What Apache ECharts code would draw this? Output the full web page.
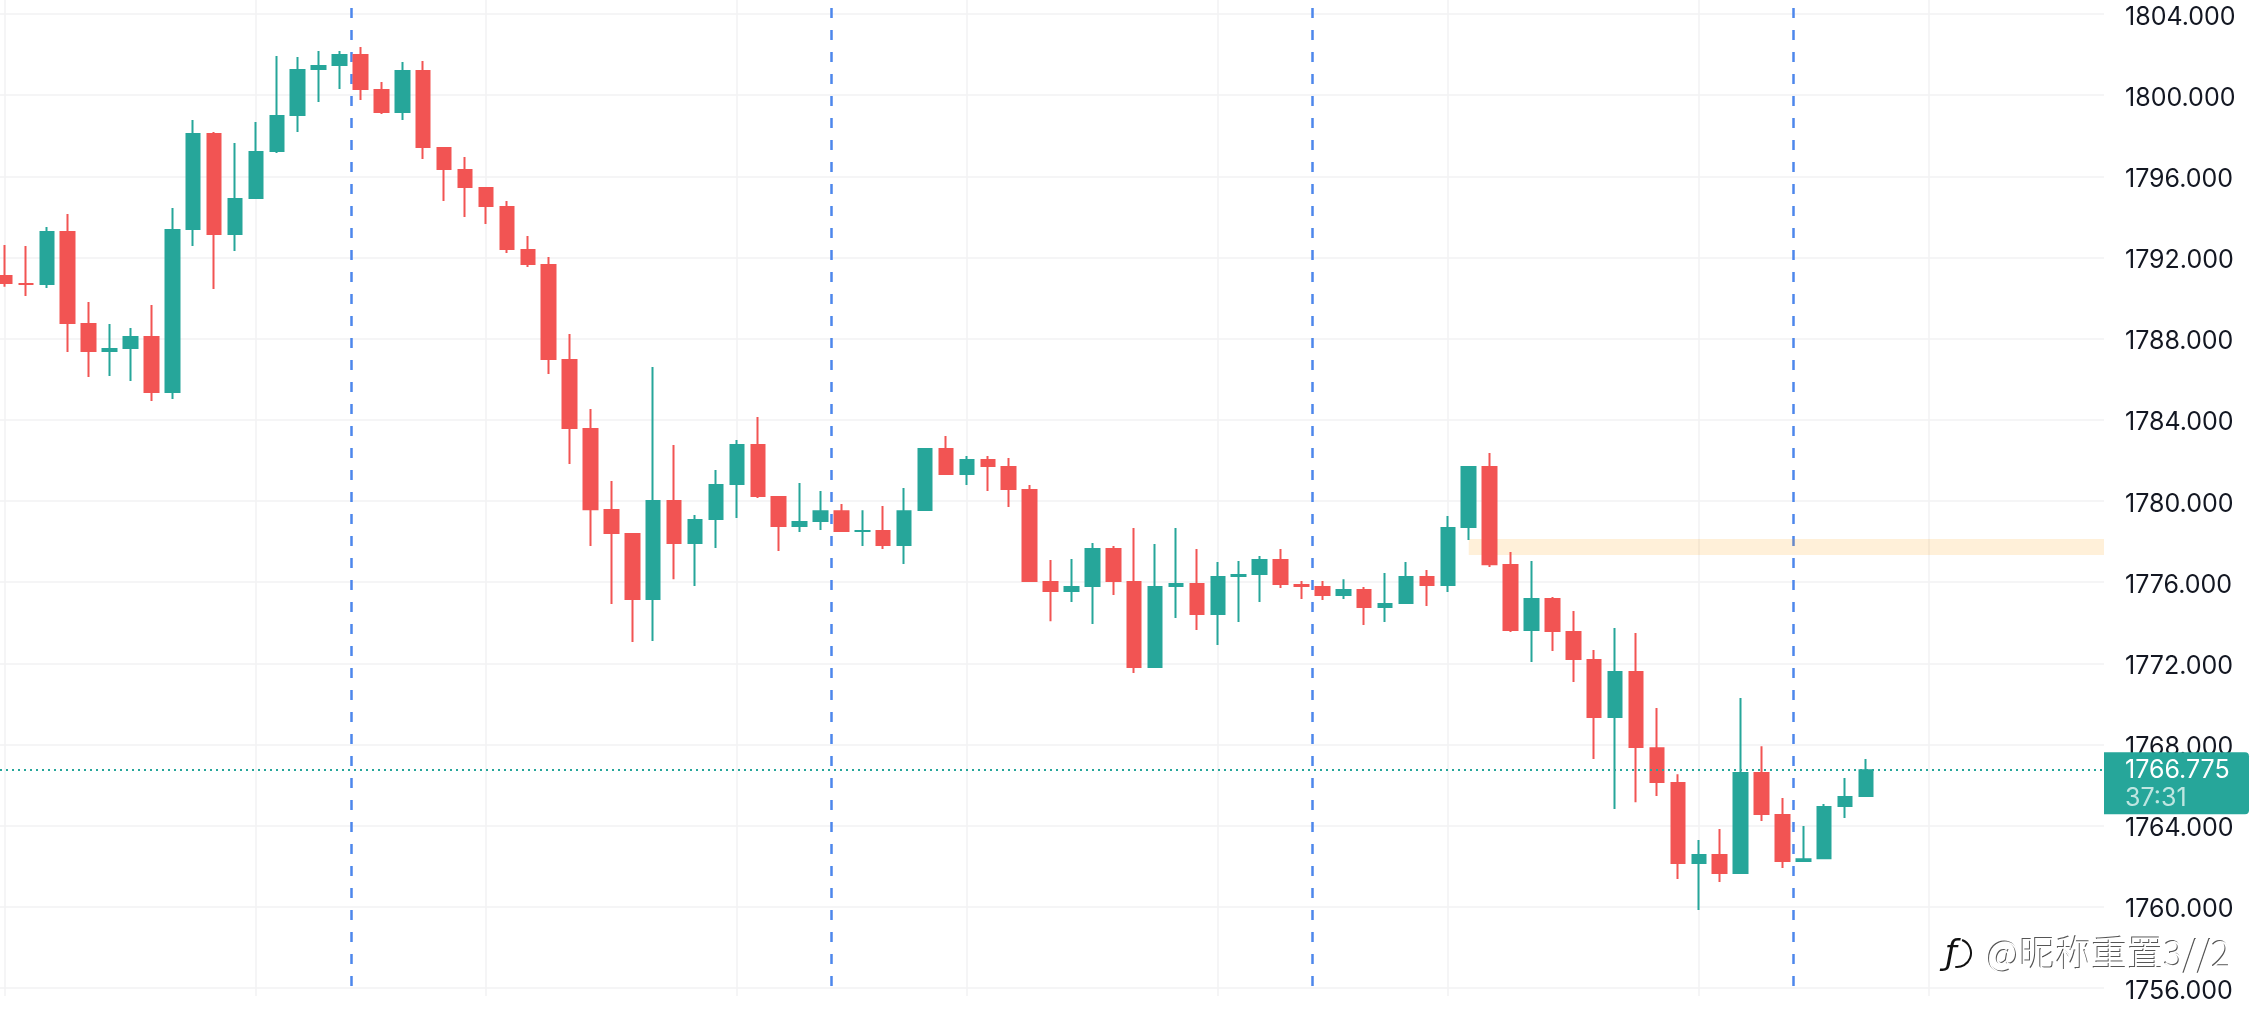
<!DOCTYPE html>
<html>
<head>
<meta charset="utf-8">
<title>XAUUSD candlestick</title>
<script src="https://cdn.jsdelivr.net/npm/echarts@6/dist/echarts.min.js"></script>
<style>html,body{margin:0;padding:0;background:#fff}#c{width:2254px;height:1010px}</style>
</head>
<body>
<div id="c"></div>
<script>
const opens = [1791.14,1790.74,1790.64,1793.31,1788.77,1787.34,1787.49,1788.13,1785.32,1793.35,
1798.14,1793.11,1794.88,1797.20,1798.97,1801.24,1801.44,1802.03,1800.30,1799.12,
1801.24,1797.45,1796.36,1795.47,1794.54,1792.42,1791.68,1787.00,1783.60,1779.60,
1778.42,1775.12,1780.05,1777.88,1779.06,1780.79,1782.81,1780.25,1778.72,1778.96,
1779.55,1778.47,1778.57,1777.78,1779.51,1782.61,1781.28,1782.07,1781.72,1780.59,
1776.06,1775.51,1775.76,1777.68,1776.06,1771.77,1775.76,1775.96,1774.38,1776.25,
1776.35,1777.14,1775.91,1775.81,1775.32,1775.66,1774.73,1774.92,1776.30,1775.81,
1778.67,1781.72,1776.89,1773.59,1775.22,1773.59,1772.21,1769.30,1771.62,1767.87,
1766.15,1762.11,1762.60,1761.62,1766.64,1764.57,1762.21,1762.35,1764.92,1765.41];
const closes = [1790.69,1790.64,1793.31,1788.72,1787.34,1787.54,1788.13,1785.32,1793.40,1798.14,
1793.11,1794.93,1797.25,1799.02,1801.29,1801.49,1802.03,1800.25,1799.12,1801.24,
1797.40,1796.31,1795.42,1794.49,1792.37,1791.63,1786.95,1783.55,1779.55,1778.37,
1775.12,1780.05,1777.88,1779.11,1780.84,1782.81,1780.20,1778.72,1779.01,1779.55,
1778.47,1778.57,1777.78,1779.55,1782.61,1781.28,1782.07,1781.67,1780.54,1776.01,
1775.51,1775.81,1777.68,1776.01,1771.77,1775.81,1775.96,1774.38,1776.30,1776.40,
1777.14,1775.86,1775.76,1775.32,1775.66,1774.73,1774.97,1776.30,1775.81,1778.72,
1781.72,1776.84,1773.59,1775.22,1773.54,1772.16,1769.30,1771.62,1767.83,1766.10,
1762.11,1762.60,1761.62,1766.64,1764.52,1762.21,1762.40,1764.97,1765.46,1766.775];
const lows = [1790.56,1790.10,1790.50,1787.34,1786.11,1786.16,1785.91,1784.93,1785.03,1792.57,
1790.45,1792.32,1794.88,1797.15,1798.18,1799.66,1800.30,1799.76,1799.07,1798.78,
1796.85,1794.78,1794.00,1793.65,1792.22,1791.53,1786.26,1781.82,1777.78,1774.92,
1773.05,1773.10,1776.15,1775.81,1777.68,1779.16,1780.15,1777.53,1778.47,1778.57,
1778.47,1777.78,1777.63,1776.89,1779.51,1781.28,1780.79,1780.49,1779.70,1776.01,
1774.08,1775.02,1773.94,1775.37,1771.52,1771.77,1774.23,1773.64,1772.90,1774.04,
1775.02,1775.71,1775.17,1775.12,1775.17,1773.89,1774.04,1774.92,1774.82,1775.51,
1778.08,1776.75,1773.54,1772.06,1772.61,1771.08,1767.28,1764.82,1765.16,1765.46,
1761.37,1759.84,1761.22,1761.62,1764.23,1761.91,1762.21,1762.35,1764.38,1765.41];
const highs = [1792.62,1792.57,1793.50,1794.14,1789.81,1788.72,1788.53,1789.66,1794.44,1798.78,
1798.18,1797.64,1798.68,1801.93,1801.88,1802.18,1802.18,1802.37,1800.65,1801.63,
1801.68,1797.45,1796.95,1795.47,1794.78,1793.06,1792.02,1788.23,1784.53,1780.98,
1778.42,1786.60,1782.76,1779.31,1781.53,1783.01,1784.14,1780.25,1780.89,1780.49,
1779.85,1779.55,1779.75,1780.64,1782.61,1783.20,1782.22,1782.22,1782.12,1780.79,
1777.09,1777.14,1777.93,1777.78,1778.67,1777.88,1778.67,1777.63,1776.99,1777.04,
1777.29,1777.63,1776.06,1776.06,1776.15,1775.76,1776.45,1776.99,1776.60,1779.26,
1781.72,1782.36,1777.49,1777.04,1775.27,1774.58,1772.66,1773.74,1773.49,1769.80,
1766.54,1763.29,1763.83,1770.29,1767.92,1765.36,1763.98,1765.07,1766.35,1767.28];
const priceTicks = [1756,1760,1764,1768,1772,1776,1780,1784,1788,1792,1796,1800,1804];
const timeGridCandles = [0,12,23,35,46,58,69,81,92];
const sessionMarkers = [16.55,39.5,62.5,85.5];
const zoneLow = 1777.34, zoneHigh = 1778.13, zoneStart = 70;
const lastPrice = 1766.775, countdown = '37:31';
const watermark = '@昵称重置3//2';

const GREEN = '#26a69a', RED = '#f25453', FONT = 'Inter, "Noto Sans", sans-serif';
const chart = echarts.init(document.getElementById('c'));
// The 2px outline straddles each body edge, so the body path is inset by half the stroke
// (1px on the price scale) to keep the painted body edges on the real open and close.
const pxPerUnit = 996 / (1804.69 - 1755.606);
const strokeInset = 1 / pxPerUnit;
const candles = opens.map((o, i) => {
  const c = closes[i];
  const dir = c >= o ? 1 : -1;
  let drawnOpen = o + dir * strokeInset, drawnClose = c - dir * strokeInset;
  if ((drawnClose - drawnOpen) * dir <= 0) {
    const mid = (o + c) / 2;
    drawnOpen = mid - dir * 0.001;
    drawnClose = mid + dir * 0.001;
  }
  return [i, drawnOpen, drawnClose, lows[i], highs[i]];
});

chart.setOption({
  animation: false,
  backgroundColor: '#ffffff',
  grid: {left: 0, top: 0, width: 2104, height: 996, containLabel: false},
  xAxis: {
    type: 'value', min: -0.239, max: 100.38, scale: true,
    axisLine: {show: false}, axisLabel: {show: false},
    axisTick: {show: false, customValues: timeGridCandles},
    splitLine: {show: true, lineStyle: {color: '#f2f2f3', width: 1.5}}
  },
  yAxis: {
    type: 'value', position: 'right', min: 1755.606, max: 1804.69, scale: true,
    axisLine: {show: false},
    axisTick: {show: false, customValues: priceTicks},
    axisLabel: {
      customValues: priceTicks, margin: 21, color: '#131722', fontSize: 25, fontFamily: FONT,
      verticalAlign: 'top', lineHeight: 6,
      hideOverlap: false, showMinLabel: true, showMaxLabel: true,
      formatter: v => Number(v).toFixed(3)
    },
    splitLine: {show: true, lineStyle: {color: '#f2f2f3', width: 1.5}}
  },
  series: [
    {
      type: 'line', name: 'sessions', data: [], z: 1, silent: true,
      markLine: {
        z: 1, silent: true, symbol: 'none', animation: false, label: {show: false},
        lineStyle: {color: '#4d87ec', width: 2.5, type: [10, 12]},
        data: sessionMarkers.map(x => [{coord: [x, 1804.30]}, {coord: [x, 1755.88]}])
      }
    },
    {
      type: 'candlestick', name: 'XAUUSD', data: candles, barWidth: 14, z: 3, clip: true,
      itemStyle: {color: GREEN, color0: RED, borderColor: GREEN, borderColor0: RED, borderWidth: 2},
      markArea: {
        z: 2, silent: true, animation: false,
        itemStyle: {color: 'rgba(255,152,0,0.15)'},
        data: [[{coord: [zoneStart, zoneHigh]}, {coord: [100.38, zoneLow]}]]
      },
      markLine: {
        z: 5, silent: true, symbol: 'none', animation: false, label: {show: false},
        lineStyle: {color: GREEN, width: 2, type: [2, 4]},
        data: [{yAxis: lastPrice}]
      }
    }
  ]
});

const tagY = chart.convertToPixel({yAxisIndex: 0}, lastPrice);
const wmY = 953;
chart.setOption({
  graphic: [
    {type: 'rect', z: 100, shape: {x: 2104, y: tagY - 17, width: 145, height: 62, r: [0, 4, 4, 0]}, style: {fill: GREEN}},
    {type: 'text', z: 101, x: 2125, y: tagY + 1.5, style: {text: lastPrice.toFixed(3), fill: '#ffffff', font: '25px ' + FONT, textVerticalAlign: 'middle', textAlign: 'left'}},
    {type: 'text', z: 101, x: 2125, y: tagY + 29.5, style: {text: countdown, fill: '#bfe6e1', font: '25px ' + FONT, textVerticalAlign: 'middle', textAlign: 'left'}},
    {type: 'text', z: 102, x: 1986, y: wmY - 1, style: {text: watermark, fill: '#555555', font: '300 36px "Noto Sans CJK SC"', textVerticalAlign: 'middle', textAlign: 'left'}},
    {type: 'text', z: 103, x: 1987, y: wmY, style: {text: watermark, fill: '#ffffff', font: '300 36px "Noto Sans CJK SC"', textVerticalAlign: 'middle', textAlign: 'left'}},
    {type: 'text', z: 102, x: 1945, y: wmY + 2, style: {text: 'ƒ', fill: '#111111', font: 'italic 34px "DejaVu Sans"', textVerticalAlign: 'middle', textAlign: 'left'}},
    {type: 'arc', z: 102, shape: {cx: 1957, cy: wmY, r: 14, startAngle: -1.2, endAngle: 1.7}, style: {stroke: '#111111', fill: 'none', lineWidth: 2}}
  ]
});
</script>
</body>
</html>
